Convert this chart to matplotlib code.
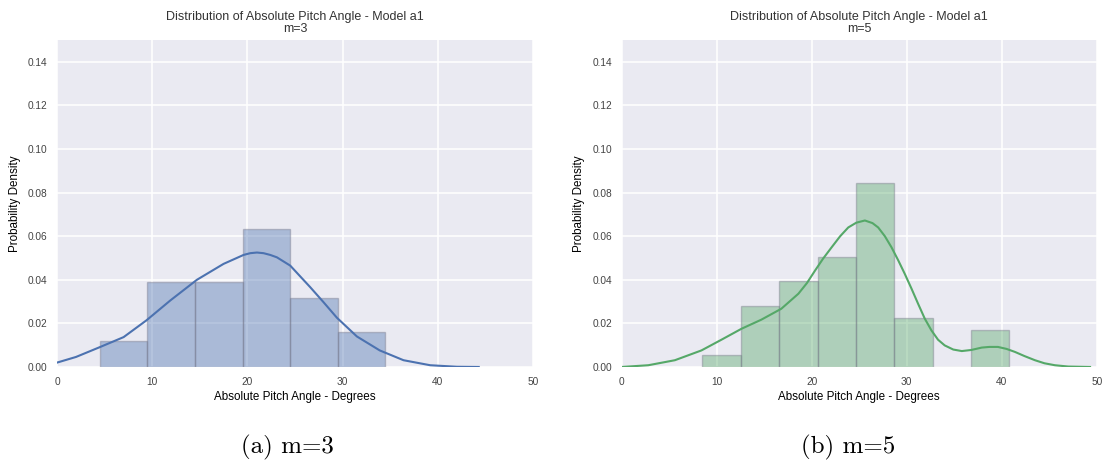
import matplotlib.pyplot as plt

# histogram bins (left edges) and densities
m3_edges = [4.5, 9.5, 14.5, 19.5, 24.5, 29.5]
m3_width = 5.0
m3_density = [0.0118, 0.0390, 0.0390, 0.0633, 0.0316, 0.0160]

m5_edges = [8.5, 12.54, 16.58, 20.62, 24.66, 28.7, 32.74, 36.78]
m5_width = 4.04
m5_density = [0.0053, 0.0279, 0.0393, 0.0503, 0.0846, 0.0224, 0.0, 0.0168]

# kde curves, sampled by eye
m3_kde_x = [0, 2, 4.5, 7, 9.4, 11.9, 14.7, 17.5, 19.6, 20.3, 21, 21.7, 22.4,
            23.1, 24.5, 26.6, 28, 29.4, 31.5, 33.9, 36.4, 39.2, 42, 44.3]
m3_kde_y = [0.0020, 0.0046, 0.0091, 0.0137, 0.0214, 0.0305, 0.0400, 0.0473,
            0.0514, 0.0522, 0.0525, 0.0522, 0.0514, 0.0503, 0.0465, 0.0366,
            0.0297, 0.0226, 0.0140, 0.0076, 0.0031, 0.0008, 0.0001, 0.0]

m5_kde_x = [0, 2.8, 5.6, 8.4, 10.5, 12.6, 14.7, 16.8, 18.6, 19.5, 20.35,
            21.2, 22.1, 23.0, 23.85, 24.7, 25.6, 26.4, 27.0, 27.7, 28.4,
            29.1, 29.8, 30.5, 31.2, 31.9, 32.6, 33.3, 34.0, 34.9, 35.8,
            36.8, 37.9, 38.7, 39.6, 40.5, 41.4, 42.4, 43.5, 44.5, 45.6,
            47.0, 49.3]
m5_kde_y = [0.0, 0.0008, 0.0031, 0.0076, 0.0125, 0.0175, 0.0217, 0.0267,
            0.0336, 0.0385, 0.0442, 0.0497, 0.0549, 0.0600, 0.0640, 0.0662,
            0.0672, 0.0660, 0.0640, 0.0600, 0.0549, 0.0490, 0.0427, 0.0360,
            0.0290, 0.0222, 0.0168, 0.0125, 0.0099, 0.0080, 0.0073, 0.0078,
            0.0089, 0.0092, 0.0092, 0.0083, 0.0069, 0.0050, 0.0031, 0.0017,
            0.0008, 0.0002, 0.0]

x_ticks = [0, 10, 20, 30, 40, 50]
y_ticks = [0.00, 0.02, 0.04, 0.06, 0.08, 0.10, 0.12, 0.14]

panels = [
    ("m=3", "(a) m=3", m3_edges, m3_width, m3_density, m3_kde_x, m3_kde_y, "#4C72B0"),
    ("m=5", "(b) m=5", m5_edges, m5_width, m5_density, m5_kde_x, m5_kde_y, "#55A868"),
]

plt.rcParams["font.family"] = ["Liberation Sans", "DejaVu Sans"]
plt.rcParams["text.color"] = "#333333"

fig = plt.figure(figsize=(11.04, 4.65), dpi=100)
positions = [[0.0516, 0.2108, 0.4312, 0.7032], [0.5631, 0.2108, 0.4303, 0.7032]]
caption_x = [0.260, 0.768]

for pos, cx, (m, cap, edges, width, dens, kx, ky, col) in zip(positions, caption_x, panels):
    ax = fig.add_axes(pos)
    ax.set_facecolor("#EAEAF2")
    for s in ax.spines.values():
        s.set_visible(False)
    ax.grid(True, color="white", linewidth=1.1)
    ax.set_axisbelow(True)

    ax.bar(edges, dens, width=width, align="edge", color=col, alpha=0.4,
           edgecolor=(0.45, 0.45, 0.52), linewidth=1.0)
    ax.plot(kx, ky, color=col, linewidth=1.5)

    ax.set_xlim(0, 50)
    ax.set_ylim(0, 0.15)
    ax.set_xticks(x_ticks)
    ax.set_yticks(y_ticks)
    ax.set_yticklabels(["%.2f" % v for v in y_ticks])
    ax.tick_params(length=0, labelsize=7.3, labelcolor="#444444", pad=7)

    ax.set_title("Distribution of Absolute Pitch Angle - Model a1\n" + m,
                 fontsize=9, pad=6, linespacing=1.0)
    ax.set_xlabel("Absolute Pitch Angle - Degrees", fontsize=8.4, labelpad=3)
    ax.set_ylabel("Probability Density", fontsize=8.4, labelpad=5)

    fig.text(cx, 0.038, cap, ha="center", va="center", fontsize=18,
             family="cmr10", color="black")

fig.savefig("out.png", dpi=100)
